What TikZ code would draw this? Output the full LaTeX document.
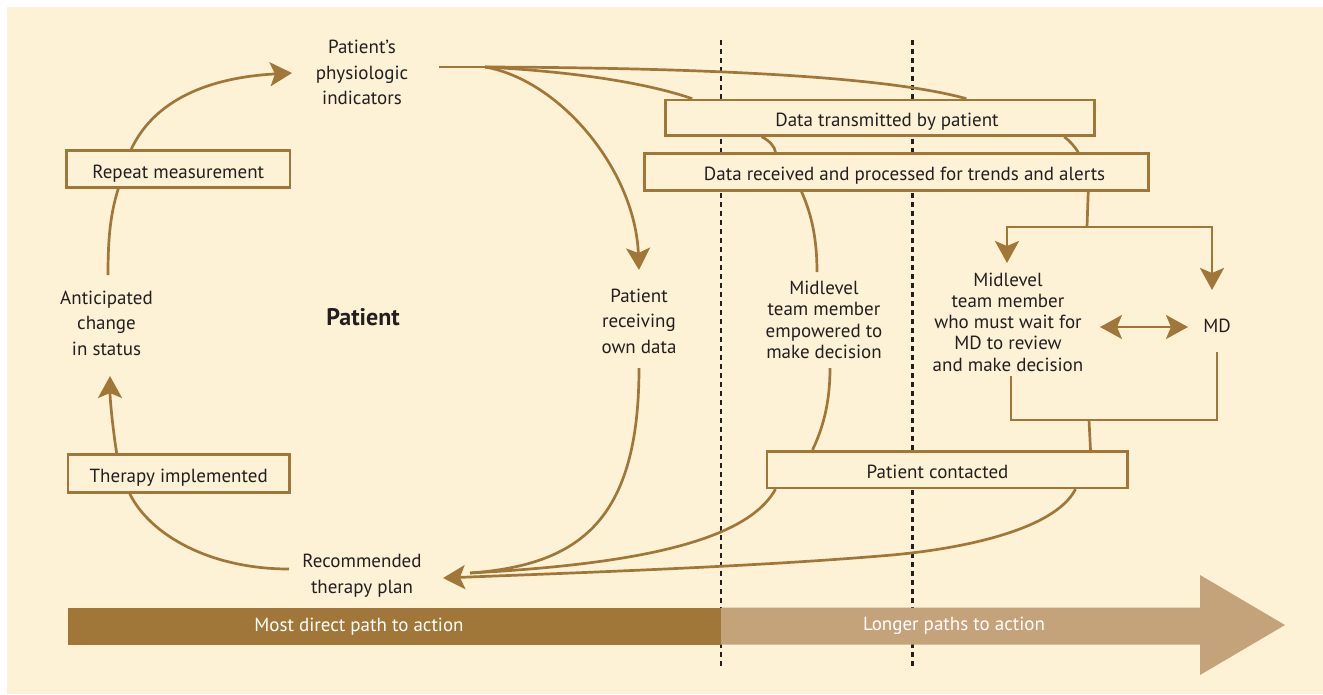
\documentclass[tikz,border=0pt]{standalone}
\usepackage{fontspec}
\setmainfont{PT Sans}
\usetikzlibrary{arrows.meta,calc}
\definecolor{cream}{RGB}{253,242,214}
\definecolor{brn}{RGB}{161,119,57}
\definecolor{lbrn}{RGB}{196,162,122}
\definecolor{ink}{RGB}{35,31,32}
\begin{document}
\begin{tikzpicture}[x=1pt,y=-1pt,
  box/.style={draw=brn, line width=2.6pt, fill=cream, inner sep=0pt, text height=18pt, text depth=0pt, font=\fontsize{19}{22}\selectfont, text=ink},
  lbl/.style={inner sep=0pt, align=center, font=\fontsize{19}{25.5}\selectfont, text=ink},
  lblr/.style={inner sep=0pt, align=center, font=\fontsize{19}{21.3}\selectfont, text=ink},
  conn/.style={draw=brn, line width=2.7pt},
  tip/.style={-{Stealth[length=22pt,width=24pt,inset=5pt]}},
  twotip/.style={{Stealth[length=22pt,width=24pt,inset=5pt]}-{Stealth[length=22pt,width=24pt,inset=5pt]}},
  dots/.style={draw=ink, line width=2.5pt, dash pattern=on 4.5pt off 4.5pt},
  barlbl/.style={text=white, font=\fontsize{19}{22}\selectfont, inner sep=0pt}]
\useasboundingbox (0,0) rectangle (1323,694);
\fill[cream] (7,7) rectangle (1323,694);
% dotted separators
\draw[dots] (721,40) -- (721,670);
\draw[dots] (912.5,40) -- (912.5,670);
% bottom bars
\node[fill=brn, minimum width=653.5pt, minimum height=37pt, inner sep=0pt] (bar1) at (394.25,626) {};
\fill[lbrn] (721,607.5) -- (1200,607.5) -- (1200,575) -- (1285,625) -- (1200,675) -- (1200,644.5) -- (721,644.5) -- cycle;
\node[barlbl] (t1) at (359,627) {Most direct path to action};
\node[barlbl] (t2) at (954,626) {Longer paths to action};
% text nodes
\node[lbl] (pi) at (362,72.5) {Patient’s\\physiologic\\indicators};
\node[lbl] (ac) at (106.5,323) {Anticipated\\change\\in status};
\node[lbl] (rt) at (362,575.5) {Recommended\\therapy plan};
\node[inner sep=0pt, text=ink, font=\fontsize{24}{28}\selectfont\bfseries] (pt) at (363,317) {Patient};
\node[lbl] (prd) at (639,321) {Patient\\receiving\\own data};
\node[lblr] (me) at (824,320) {Midlevel\\team member\\empowered to\\make decision};
\node[lblr] (mw) at (1008,322) {Midlevel\\team member\\who must wait for\\MD to review\\and make decision};
\node[lbl] (md) at (1217,325.5) {MD};
% boxes
\node[box, minimum width=223.5pt, minimum height=37pt] (rm) at (178.25,169) {Repeat measurement};
\node[box, minimum width=221.5pt, minimum height=37.6pt] (ti) at (178.7,473.5) {Therapy implemented};
\node[box, minimum width=429pt, minimum height=35.5pt] (dt) at (880,117.75) {\hspace*{14pt}Data transmitted by patient};
\node[box, minimum width=503.7pt, minimum height=36.7pt] (dr) at (896.6,171.9) {\hspace*{16pt}Data received and processed for trends and alerts};
\node[box, minimum width=360.4pt, minimum height=36.6pt] (pc) at (947,469.5) {\hspace*{-19pt}Patient contacted};
% left cycle
\draw[conn,tip] ([xshift=-47pt]rm.north) .. controls (152,105) and (200,78) .. ([xshift=-70pt,yshift=-0.5pt]pi.center);
\draw[conn] ([xshift=-60pt]rm.south) .. controls (110,215) and (108,240) .. ([xshift=1.5pt,yshift=48pt]ac.center);
\draw[conn,tip] ([xshift=-62pt]ti.north) .. controls (113,430) and (110,400) .. ([xshift=3.5pt,yshift=-53pt]ac.center);
\draw[conn] ([xshift=-49pt]ti.south) .. controls (150,535) and (210,569) .. ([xshift=-73pt,yshift=6.5pt]rt.center);
% from physiologic indicators
\coordinate (fork) at (485,67);
\draw[conn] ([xshift=77pt,yshift=5.5pt]pi.center) -- (fork);
\draw[conn,tip] (fork) .. controls (560,80) and (635,170) .. ([yshift=51pt]prd.center);
\draw[conn] (fork) .. controls (580,72) and (650,84) .. ([xshift=28pt]dt.north west);
\draw[conn] (fork) .. controls (750,68) and (900,80) .. ([xshift=-129.5pt]dt.north east);
% between data boxes
\draw[conn] ([xshift=97.5pt]dt.south west) .. controls (770,141) and (775,147) .. ([xshift=132pt]dr.north west);
\draw[conn] ([xshift=-31.5pt]dt.south east) .. controls (1070,141) and (1075,147) .. ([xshift=-71.5pt]dr.north east);
% to midlevel empowered
\draw[conn] ([xshift=158pt]dr.south west) .. controls (812,215) and (817,240) .. ([xshift=-7pt,yshift=48pt]me.center);
% branching to midlevel-wait and MD
\coordinate (br) at (1087,227);
\draw[conn] ([xshift=-61.5pt]dr.south east) -- (br);
\draw[conn,tip] (br) -| ([xshift=-1pt,yshift=59pt]mw.center);
\draw[conn,tip] (br) -| ([xshift=-5pt,yshift=35.5pt]md.center);
\draw[conn,twotip] ([xshift=92pt,yshift=-5pt]mw.center) -- ([xshift=-29pt,yshift=-1.5pt]md.center);
% joining to patient contacted
\coordinate (jn) at (1089,420);
\draw[conn] ([xshift=3pt,yshift=-54pt]mw.center) |- (jn) -| ([yshift=-26.5pt]md.center);
\draw[conn] (jn) -- ([xshift=-38pt]pc.north east);
\draw[conn] ([xshift=6pt,yshift=-48pt]me.center) .. controls (830,405) and (822,430) .. ([xshift=47pt]pc.north west);
% back to recommended therapy plan
\coordinate (rtin) at (470,573);
\draw[conn] ([xshift=10pt]pc.south west) .. controls (745,545) and (620,565) .. (rtin);
\draw[conn] ([yshift=-47pt]prd.center) .. controls (639,520) and (580,565) .. (rtin);
\draw[conn,tip] ([xshift=-53pt]pc.south east) .. controls (1055,530) and (960,550) .. (880,556) .. controls (760,566) and (600,572) .. ([xshift=81pt,yshift=-2.5pt]rt.center);
\end{tikzpicture}
\end{document}
